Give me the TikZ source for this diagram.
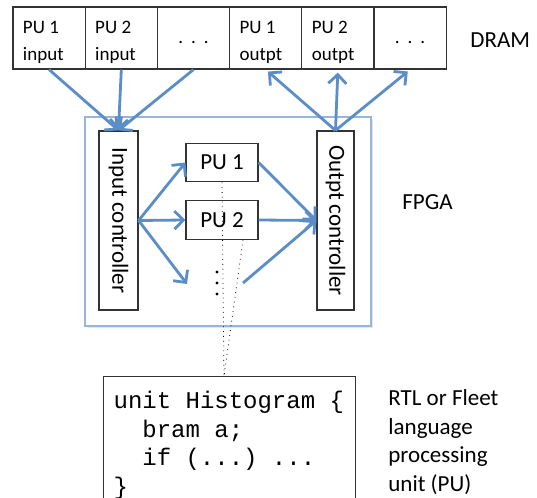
\documentclass[tikz,border=0pt]{standalone}
\usepackage{fontspec}
\setmainfont{Carlito}
\setmonofont{Liberation Mono}
\usetikzlibrary{arrows.meta,calc,shadows}

\definecolor{flowblue}{RGB}{91,142,200}
\definecolor{fpgablue}{RGB}{150,182,218}

% 两行存储单元文字（首行加支撑使文字略偏下）
\newcommand{\celltwo}[2]{\rule{0pt}{11pt}#1\\#2}
\newcommand{\celldots}{.\hspace{4pt}.\hspace{4pt}.}

\tikzset{
  % align=left 会改写词间距，这里恢复字体自身的空格宽度
  fontspace/.style={execute at begin node={\spaceskip=0pt\xspaceskip=0pt\relax}},
  cell/.style={draw, black!80, text=black, line width=0.6pt, minimum width=36.1pt,
    minimum height=31pt, inner xsep=5pt, inner ysep=0pt, text width=26.1pt,
    align=left, fontspace, font=\fontsize{9.5}{13.5}\selectfont},
  dotcell/.style={cell, align=center, text height=6pt},
  ctrl/.style={draw, black!80, text=black, line width=0.6pt, rotate=-90,
    minimum width=89.5pt, minimum height=19.5pt, inner sep=0pt,
    font=\fontsize{11.5}{14}\selectfont},
  pu/.style={draw, black!80, text=black, line width=0.6pt, minimum width=36pt,
    minimum height=19.3pt, inner sep=0pt, font=\fontsize{11.5}{14}\selectfont},
  fpgabox/.style={draw, fpgablue, line width=0.9pt, fill=white,
    drop shadow={shadow xshift=0.8pt, shadow yshift=-0.8pt, opacity=0.2},
    minimum width=143pt, minimum height=104.5pt, inner sep=0pt},
  codebox/.style={draw, black!80, text=black, line width=0.6pt, anchor=north west,
    minimum width=126pt, text width=116pt, inner xsep=5pt, inner ysep=7.5pt,
    align=left, fontspace, font=\ttfamily\fontsize{12}{14.2}\selectfont},
  sidetext/.style={align=left, fontspace, inner sep=0pt,
    font=\fontsize{11.5}{14.2}\selectfont},
  flow/.style={->, flowblue, line width=1.4pt},
}

\begin{document}
\begin{tikzpicture}[x=0.5pt, y=-0.5pt, >={Straight Barb[length=4.5pt,width=9pt]}]

    % --- 画布范围 ---
    \clip (0,0) rectangle (537,498);

    % --- DRAM 行 ---
    \node[cell]    (in1)   at (49.1,38)  {\celltwo{PU 1}{input}};
    \node[cell]    (in2)   at (121.3,38) {\celltwo{PU 2}{input}};
    \node[dotcell] (inN)   at (193.5,38) {\celldots};
    \node[cell]    (out1)  at (265.7,38) {\celltwo{PU 1}{outpt}};
    \node[cell]    (out2)  at (337.9,38) {\celltwo{PU 2}{outpt}};
    \node[dotcell] (outN)  at (410.1,38) {\celldots};
    \node[sidetext, anchor=base west] (dram) at (470,47) {DRAM};

    % --- FPGA 及控制器 ---
    \node[fpgabox] (fpga) at (228,221.5) {};
    \node[sidetext, anchor=base west] (fpganame) at (402,209) {FPGA};

    % 旋转 -90 度后：north 朝右，west 朝上，south 朝左
    \node[ctrl] (inctrl)  at (118.5,220.5) {Input controller};
    \node[ctrl, minimum height=18.5pt] (outctrl) at (335.5,220.5) {Outpt controller};

    % --- 处理单元 ---
    \node[pu] (pu1) at (222,162.5) {PU 1};
    \node[pu] (pu2) at (222,220)   {PU 2};
    \foreach \y in {272,283,294}
        \fill (217,\y) circle (0.8pt);

    % 省略号处箭头的自由端
    \coordinate (puN_in)  at (187,284);
    \coordinate (puN_out) at (243,283);

    % --- 数据流箭头 ---
    \draw[flow] (in1.south) -- (inctrl.west);
    \draw[flow] (in2.south) -- (inctrl.west);
    \draw[flow] (inN.south) -- (inctrl.west);

    \draw[flow] (inctrl.north) -- (pu1.west);
    \draw[flow] (inctrl.north) -- (pu2.west);
    \draw[flow] (inctrl.north) -- (puN_in);

    \draw[flow] (pu1.east) -- (outctrl.south);
    \draw[flow] (pu2.east) -- (outctrl.south);
    \draw[flow] (puN_out)  -- (outctrl.south);

    \draw[flow, shorten >=1.5pt] (outctrl.west) -- (out1.south);
    \draw[flow, shorten >=1.5pt] (outctrl.west) -- (out2.south);
    \draw[flow, shorten >=1.5pt] (outctrl.west) -- (outN.south);

    % --- PU 源代码 ---
    \node[codebox] (code) at (103,376)
        {unit Histogram \{\\
         \hspace*{1.2em}bram a;\\
         \hspace*{1.2em}if (...) ...\\
         \}};
    % 多行节点的 base 取最后一行基线
    \node[sidetext, anchor=base west] (rtl) at (388,491)
        {RTL or Fleet\\language\\processing\\unit (PU)};

    % 放大引线（虚线）
    \coordinate (codetop) at (224,376);
    \draw[dotted, line width=0.4pt] (pu1.south) -- (codetop);
    \draw[dotted, line width=0.4pt] ([xshift=10.5pt]pu2.south) -- (codetop);

\end{tikzpicture}
\end{document}
